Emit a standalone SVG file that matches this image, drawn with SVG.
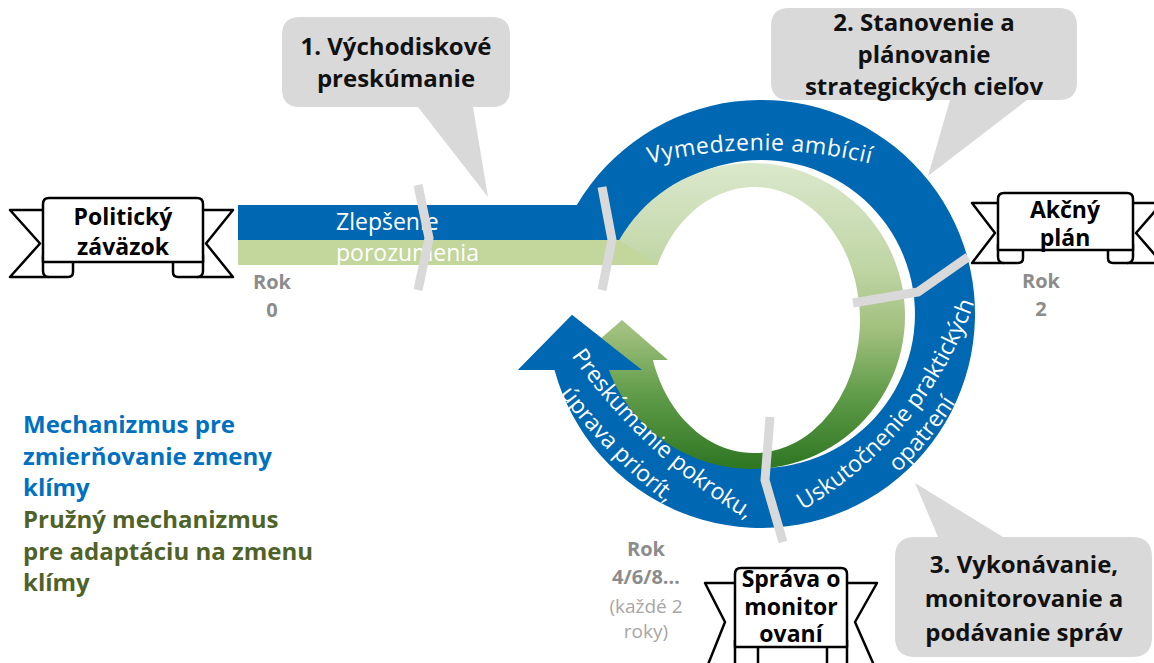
<svg xmlns="http://www.w3.org/2000/svg" width="1154" height="663" viewBox="0 0 1154 663">
<defs>
<style>
.bl{fill:#0068b2}
.gb{fill:#c3d69b}
.sep{fill:none;stroke:#d9d9d9;stroke-width:9;stroke-linejoin:miter}
.call{fill:#d9d9d9}
.ct{font-family:"Open Sans","Noto Sans",sans-serif;font-weight:700;font-size:24px;fill:#111;text-anchor:middle}
.ban{fill:#fff;stroke:#000;stroke-width:2.5;stroke-linejoin:round}
.bt{font-family:"Open Sans","Noto Sans",sans-serif;font-weight:700;font-size:23px;fill:#000;text-anchor:middle}
.rt{font-family:"Open Sans","Noto Sans",sans-serif;font-size:23px;fill:#fff}
.rok{font-family:"Open Sans","Noto Sans",sans-serif;font-weight:700;font-size:20px;fill:#8c8c8c;text-anchor:middle}
.rok2{font-family:"Open Sans","Noto Sans",sans-serif;font-size:19px;fill:#a6a6a6;text-anchor:middle}
.lg{font-family:"Open Sans","Noto Sans",sans-serif;font-weight:700;font-size:24px}
</style>
<linearGradient id="gGreen" gradientUnits="userSpaceOnUse" x1="0" y1="158" x2="0" y2="475">
<stop offset="0" stop-color="#dce9ce"/>
<stop offset="0.35" stop-color="#bfd5a4"/>
<stop offset="0.55" stop-color="#9fbf7c"/>
<stop offset="0.75" stop-color="#5f9b48"/>
<stop offset="1" stop-color="#2a731f"/>
</linearGradient>
<path id="pVym" d="M560,196 A460,460 0 0 1 960,196"/>
<path id="pUsk1" d="M714.2,547.9 A389,389 0 0 0 994.5,207.9"/>
<path id="pUsk2" d="M721.9,574.9 A417,417 0 0 0 1022.4,210.3"/>
<path id="pPre1" d="M503.4,224.9 A570,570 0 0 0 881.9,577.9"/>
<path id="pPre2" d="M464.9,211 A602,602 0 0 0 848,600.9"/>
</defs>
<rect width="1154" height="663" fill="#fff"/>

<g id="cycle">
<path class="bl" d="M238,205 L576.8,205 A214,214 0 1 1 554.5,370 L518,370 L572,315 L642,370 L617.5,370 A154,154 0 1 0 625.9,240 L238,240 Z"/>
<rect class="gb" x="238" y="240" width="420" height="25"/>
<path fill="url(#gGreen)" d="M619.2,240 A153,153 0 1 1 605.5,360 L576,360 L622,320 L668,360 L652.9,360 A106,133 0 1 0 657.5,265 Z"/>
<path class="bl" d="M518,370 L572,315 L642,370 Z"/>
<text class="rt" x="336" y="230" font-size="25">Zlepšenie</text>
<text class="rt" x="336" y="261" font-size="25">porozumenia</text>
<text class="rt" font-size="25" letter-spacing="0.6"><textPath href="#pVym" startOffset="50%" text-anchor="middle">Vymedzenie ambícií</textPath></text>
<text class="rt"><textPath href="#pUsk1" startOffset="50%" text-anchor="middle">Uskutočnenie praktických</textPath></text>
<text class="rt"><textPath href="#pUsk2" startOffset="50%" text-anchor="middle">opatrení</textPath></text>
<text class="rt"><textPath href="#pPre1" startOffset="50%" text-anchor="middle">Preskúmanie pokroku,</textPath></text>
<text class="rt"><textPath href="#pPre2" startOffset="50%" text-anchor="middle">úprava priorít,</textPath></text>
</g>

<g id="connectors">
<polyline class="sep" points="418,185 429,238 418,290"/>
<polyline class="sep" points="602,187 612,240 602,290"/>
<polyline class="sep" points="968,257 918,292 853,303"/>
<polyline class="sep" points="770,417 765,480 783,542"/>
</g>

<g id="callout-1">
<path class="call" d="M300,17 H492 Q510,17 510,35 V89 Q510,107 492,107 H473 L488,197 L418,107 H300 Q282,107 282,89 V35 Q282,17 300,17 Z"/>
<text class="ct" x="396" y="55">1. Východiskové</text>
<text class="ct" x="396" y="87">preskúmanie</text>
</g>

<g id="callout-2">
<path class="call" d="M789,8 H1059 Q1077,8 1077,26 V82 Q1077,100 1059,100 H1027 L928,176 L950,100 H789 Q771,100 771,82 V26 Q771,8 789,8 Z"/>
<text class="ct" x="924" y="31">2. Stanovenie a</text>
<text class="ct" x="924" y="63">plánovanie</text>
<text class="ct" x="924" y="95">strategických cieľov</text>
</g>

<g id="callout-3">
<path class="call" d="M915,537 H938 L915,483 L1003,537 H1132 Q1152,537 1152,557 V637 Q1152,657 1132,657 H915 Q895,657 895,637 V557 Q895,537 915,537 Z"/>
<text class="ct" x="1024" y="573">3. Vykonávanie,</text>
<text class="ct" x="1024" y="607">monitorovanie a</text>
<text class="ct" x="1024" y="641">podávanie správ</text>
</g>

<g id="banner-politicky">
<path class="ban" d="M43,210 H10 L40,243.5 L10,277 H68 Q73,277 73,272 V262"/>
<path class="ban" d="M203,210 H233 L206,243.5 L233,277 H178 Q173,277 173,272 V262"/>
<path class="ban" d="M43,255 V271 Q43,277 49,277"/>
<path class="ban" d="M203,255 V271 Q203,277 197,277"/>
<path class="ban" d="M43,204 Q43,198 49,198 H197 Q203,198 203,204 V262 H43 Z"/>
<text class="bt" x="123" y="225">Politický</text>
<text class="bt" x="123" y="255">záväzok</text>
</g>

<g id="banner-akcny">
<path class="ban" d="M998,203 H972 L995,233 L972,263 H1018 Q1023,263 1023,258 V250"/>
<path class="ban" d="M1133,203 H1162 L1136,233 L1162,263 H1113 Q1108,263 1108,258 V250"/>
<path class="ban" d="M998,244 V257 Q998,263 1004,263"/>
<path class="ban" d="M1133,244 V257 Q1133,263 1127,263"/>
<path class="ban" d="M998,199 Q998,193 1004,193 H1127 Q1133,193 1133,199 V250 H998 Z"/>
<text class="bt" x="1065" y="218">Akčný</text>
<text class="bt" x="1065" y="246">plán</text>
</g>

<g id="banner-sprava">
<path class="ban" d="M735,583 H705 L725,622 L705,672 H753 Q758,672 758,667 V647"/>
<path class="ban" d="M847,583 H877 L855,622 L877,672 H832 Q827,672 827,667 V647"/>
<path class="ban" d="M735,640 V666 Q735,672 741,672"/>
<path class="ban" d="M847,640 V666 Q847,672 841,672"/>
<path class="ban" d="M735,574 Q735,568 741,568 H841 Q847,568 847,574 V647 H735 Z"/>
<text class="bt" x="791" y="587" font-size="18.5">Správa o</text>
<text class="bt" x="791" y="614.5" font-size="18.5">monitor</text>
<text class="bt" x="791" y="642" font-size="18.5">ovaní</text>
</g>

<g id="year-labels">
<text class="rok" x="272" y="289">Rok</text>
<text class="rok" x="272" y="317">0</text>
<text class="rok" x="1041" y="288">Rok</text>
<text class="rok" x="1041" y="316">2</text>
<text class="rok" x="646" y="556">Rok</text>
<text class="rok" x="646" y="584">4/6/8…</text>
<text class="rok2" x="646" y="613">(každé 2</text>
<text class="rok2" x="646" y="638">roky)</text>
</g>

<g id="legend">
<text class="lg" x="23" y="433" fill="#0070c0">Mechanizmus pre</text>
<text class="lg" x="23" y="465" fill="#0070c0">zmierňovanie zmeny</text>
<text class="lg" x="23" y="496" fill="#0070c0">klímy</text>
<text class="lg" x="23" y="528" fill="#4f6228">Pružný mechanizmus</text>
<text class="lg" x="23" y="560" fill="#4f6228">pre adaptáciu na zmenu</text>
<text class="lg" x="23" y="591" fill="#4f6228">klímy</text>
</g>
</svg>
